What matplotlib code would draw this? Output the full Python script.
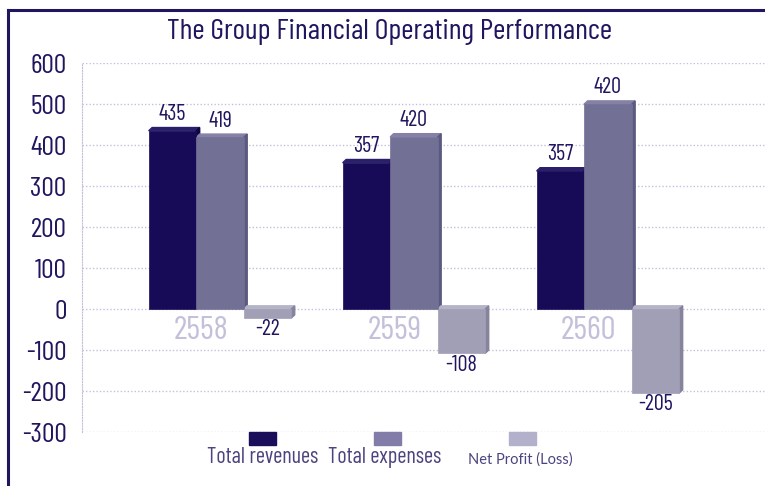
import numpy as np
import matplotlib.pyplot as plt
from matplotlib.lines import Line2D

plt.rcParams['font.family'] = ['Barlow Condensed', 'DejaVu Sans']

years = ['2558', '2559', '2560']
series_names = ['Total revenues', 'Total expenses', 'Net Profit (Loss)']
# bar heights as drawn in the picture
revenues = [435, 357, 337]
expenses = [419, 420, 500]
net_profit = [-22, -108, -205]
# numbers printed on the bars
revenue_labels = ['435', '357', '357']
expense_labels = ['419', '420', '420']
net_labels = ['-22', '-108', '-205']

yticks = [-300, -200, -100, 0, 100, 200, 300, 400, 500, 600]

front = ['#170a57', '#737096', '#a09fb5']
top = ['#2a1f6a', '#8581a6', '#b4b3c8']
side = ['#0d0640', '#5c5980', '#85849c']
legend_cols = ['#1a0e5a', '#827da8', '#b3b0cc']
navy = '#1f1660'

fig = plt.figure(figsize=(7.65, 4.86), dpi=100)
ax = fig.add_axes([0.107, 0.111, 0.893, 0.759])

x = np.arange(len(years))
w = 0.245
dx, dy = 0.018, 8

series = [revenues, expenses, net_profit]
labels = [revenue_labels, expense_labels, net_labels]
for i, vals in enumerate(series):
    xs = x + (i - 1) * w
    ax.bar(xs, vals, width=w, color=front[i], edgecolor=front[i], linewidth=0.5, zorder=3)
    for xc, v, lab in zip(xs, vals, labels[i]):
        x0, x1 = xc - w / 2, xc + w / 2
        hi = max(v, 0)
        lo = min(v, 0)
        # top face and right side for the 3D look
        ax.fill([x0, x0 + dx, x1 + dx, x1], [hi, hi + dy, hi + dy, hi],
                color=top[i], zorder=2)
        ax.fill([x1, x1 + dx, x1 + dx, x1], [lo, lo + dy, hi + dy, hi],
                color=side[i], zorder=2)
        if v >= 0:
            ax.text(xc, v + 14, lab, ha='center', va='bottom', fontsize=16, color=navy, zorder=4)
        else:
            ax.text(xc, v - 3, lab, ha='center', va='top', fontsize=16, color=navy, zorder=4)

for xc, yr in zip(x, years):
    ax.text(xc - 0.1, -16, yr, ha='center', va='top', fontsize=24, color='#c3c0da', zorder=4)

ax.set_xlim(-0.712, 2.81)
ax.set_ylim(-300, 600)
ax.set_yticks(yticks)
ax.set_yticklabels([str(t) for t in yticks], fontsize=20, color=navy)
ax.tick_params(axis='y', length=0, pad=11)
ax.set_xticks([])
ax.grid(axis='y', color='#c4c0dc', linestyle=(0, (1, 1.5)), linewidth=1, zorder=0)
for s in ['top', 'right', 'bottom']:
    ax.spines[s].set_visible(False)
ax.spines['left'].set_color('#c4c0dc')
ax.spines['left'].set_linestyle((0, (1, 1.5)))

fig.text(0.509, 0.934, 'The Group Financial Operating Performance', ha='center', va='center',
         fontsize=21.5, color=navy)

# frame lines at left and top
fig.add_artist(Line2D([0.011, 0.011], [0.0, 0.979], color=navy, linewidth=2.2))
fig.add_artist(Line2D([0.011, 1.0], [0.979, 0.979], color=navy, linewidth=2.2))

# legend
leg_x = [0.343, 0.507, 0.683]
txt_x = [0.343, 0.503, 0.68]
for i, name in enumerate(series_names):
    fig.add_artist(plt.Rectangle((leg_x[i] - 0.0175, 0.085), 0.035, 0.027,
                                 transform=fig.transFigure, color=legend_cols[i]))
    if i < 2:
        fig.text(txt_x[i], 0.058, name, ha='center', va='center', fontsize=16, color='#4a4480')
    else:
        fig.text(txt_x[i], 0.055, name, ha='center', va='center', fontsize=10.5,
                 color='#4a4480', family=['Lato', 'DejaVu Sans'])

fig.savefig('out.png', dpi=100, facecolor='white')
